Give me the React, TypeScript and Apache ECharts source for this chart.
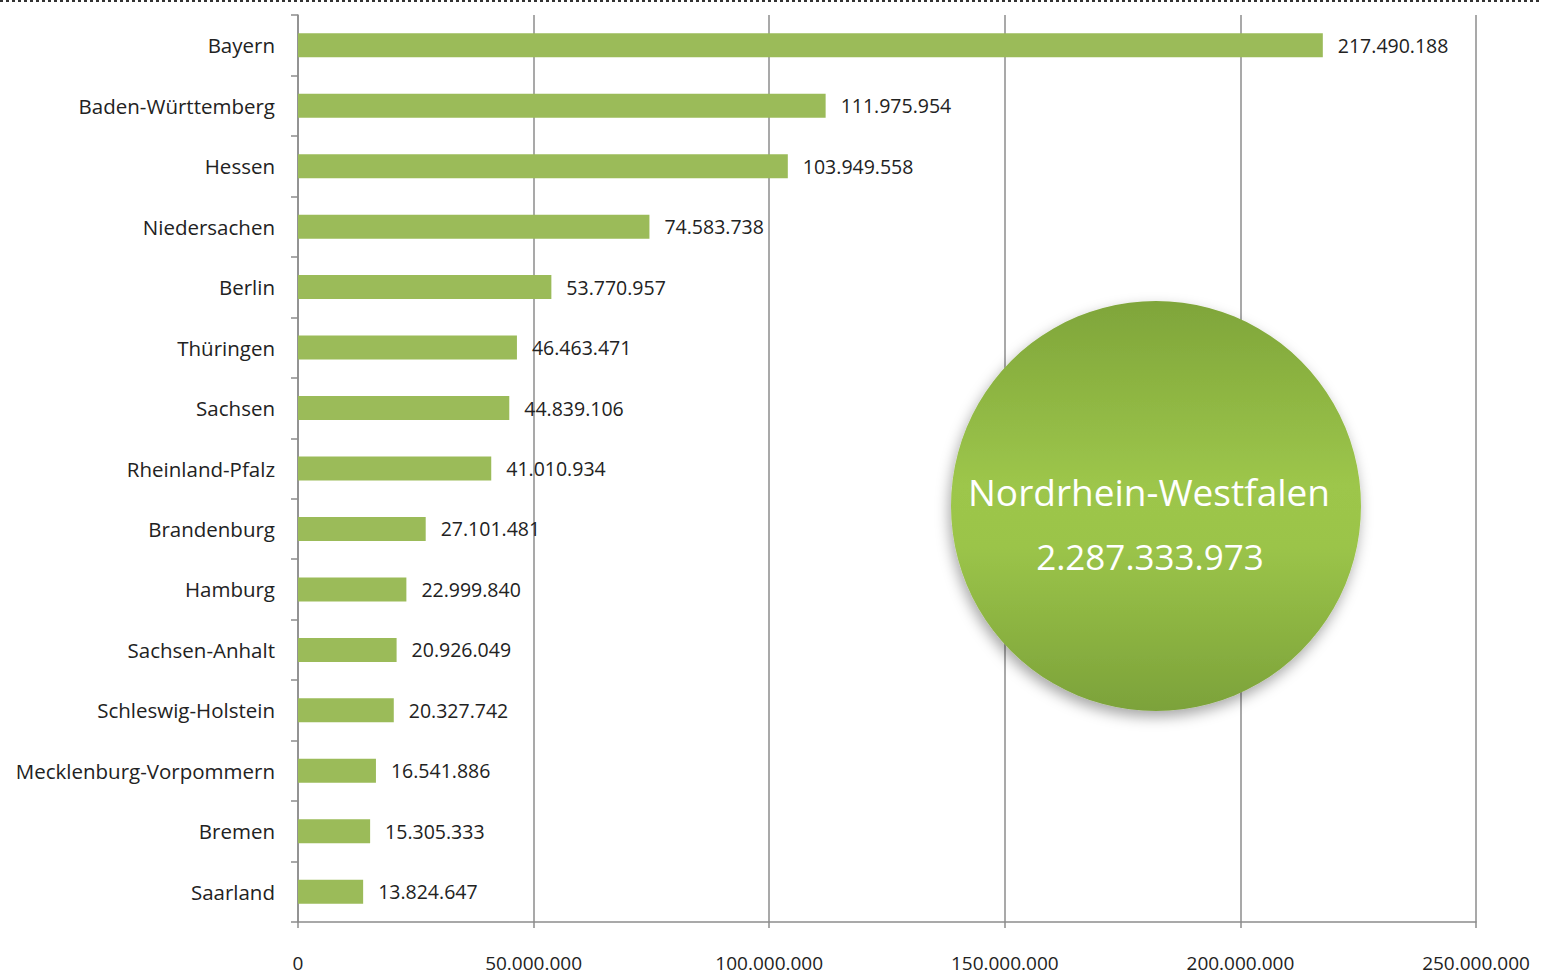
import React, { useEffect, useRef } from "react";
import * as echarts from "echarts";

const categories = [
  "Bayern",
  "Baden-Württemberg",
  "Hessen",
  "Niedersachen",
  "Berlin",
  "Thüringen",
  "Sachsen",
  "Rheinland-Pfalz",
  "Brandenburg",
  "Hamburg",
  "Sachsen-Anhalt",
  "Schleswig-Holstein",
  "Mecklenburg-Vorpommern",
  "Bremen",
  "Saarland",
];
const values = [
  217490188, 111975954, 103949558, 74583738, 53770957, 46463471, 44839106,
  41010934, 27101481, 22999840, 20926049, 20327742, 16541886, 15305333,
  13824647,
];
const highlightName = "Nordrhein-Westfalen";
const highlightValue = 2287333973;

const fmt = (v: number) =>
  String(Math.round(v)).replace(/\B(?=(\d{3})+(?!\d))/g, ".");

const FONT = "'Open Sans', 'Noto Sans', sans-serif";

export default function App() {
  const ref = useRef<HTMLDivElement>(null);
  useEffect(() => {
    if (!ref.current) return;
    const chart = echarts.init(ref.current, null, { renderer: "svg" });
    chart.setOption({
      animation: false,
      backgroundColor: "#ffffff",
      grid: { left: 298, right: 65, top: 15, bottom: 53, containLabel: false },
      xAxis: {
        type: "value",
        min: 0,
        max: 250000000,
        interval: 50000000,
        axisLine: { show: true, lineStyle: { color: "#8c8c8c", width: 1.5 } },
        axisTick: { show: true, length: 6, lineStyle: { color: "#8c8c8c", width: 1.5 } },
        splitLine: { show: true, lineStyle: { color: "#8c8c8c", width: 1.5 } },
        axisLabel: {
          margin: 31,
          color: "#222",
          fontSize: 19,
          lineHeight: 20,
          fontFamily: FONT,
          formatter: (v: number) => fmt(v),
        },
      },
      yAxis: {
        type: "category",
        inverse: true,
        data: categories,
        axisLine: { show: true, lineStyle: { color: "#8c8c8c", width: 1.5 } },
        axisTick: { show: true, length: 7, lineStyle: { color: "#8c8c8c", width: 1.5 } },
        axisLabel: {
          margin: 23,
          color: "#222",
          fontSize: 20.5,
          fontFamily: FONT,
        },
      },
      series: [
        {
          type: "bar",
          data: values,
          barWidth: 24,
          itemStyle: { color: "#9bbb59" },
          label: {
            show: true,
            position: "right",
            distance: 15,
            color: "#222",
            fontSize: 19.5,
            fontFamily: FONT,
            formatter: (p: any) => fmt(p.value),
          },
        },
      ],
      graphic: [
        {
          type: "line",
          shape: { x1: 0, y1: 1, x2: 1541, y2: 1 },
          style: { stroke: "#333", lineWidth: 2, lineDash: [3, 3] },
          silent: true,
        },
        {
          type: "circle",
          shape: { cx: 1156, cy: 506, r: 205 },
          style: {
            fill: new echarts.graphic.LinearGradient(0, 0, 0, 1, [
              { offset: 0, color: "#7fa53a" },
              { offset: 0.45, color: "#9dc64b" },
              { offset: 0.6, color: "#9bc449" },
              { offset: 1, color: "#7ca23a" },
            ]),
            shadowBlur: 14,
            shadowColor: "rgba(0,0,0,0.35)",
            shadowOffsetX: -2,
            shadowOffsetY: 6,
          },
          z: 100,
        },
        {
          type: "text",
          x: 1149,
          y: 491,
          style: {
            text: highlightName,
            fill: "#ffffff",
            fontSize: 37,
            fontFamily: FONT,
            align: "center",
            verticalAlign: "middle",
          },
          z: 101,
        },
        {
          type: "text",
          x: 1150,
          y: 556,
          style: {
            text: fmt(highlightValue),
            fill: "#ffffff",
            fontSize: 35,
            fontFamily: FONT,
            align: "center",
            verticalAlign: "middle",
          },
          z: 101,
        },
      ],
    });
    return () => chart.dispose();
  }, []);
  return (
    <div
      ref={ref}
      style={{ position: "absolute", left: 0, top: 0, width: 1541, height: 975 }}
    />
  );
}
